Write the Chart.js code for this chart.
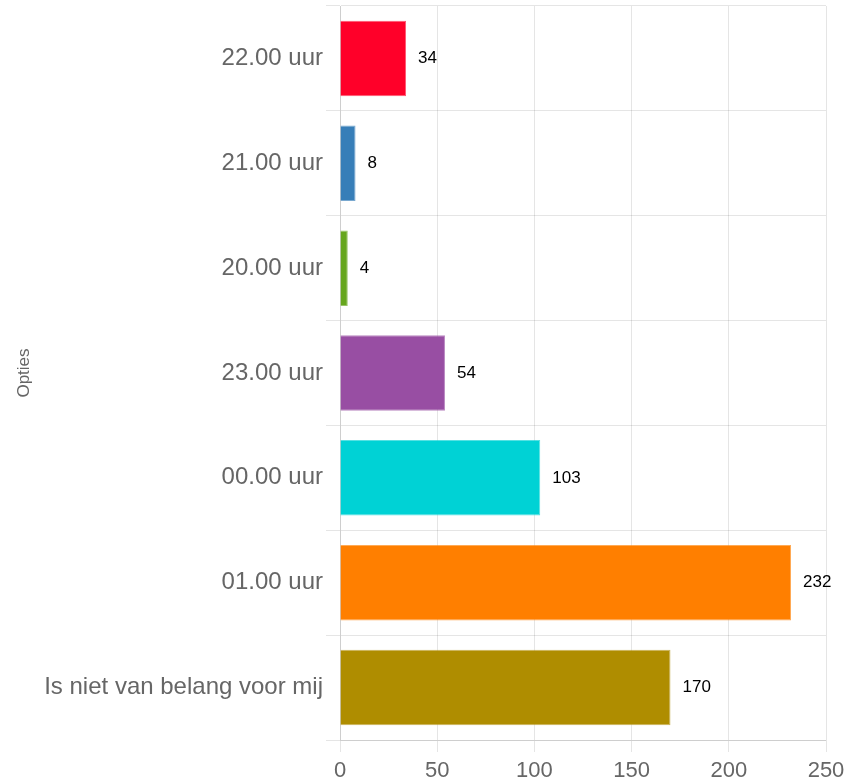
<!DOCTYPE html>
<html>
<head>
<meta charset="utf-8">
<script src="https://cdn.jsdelivr.net/npm/chart.js@4/dist/chart.umd.min.js"></script>
<style>
html,body{margin:0;padding:0;background:#fff;}
#wrap{width:849px;height:784px;}
</style>
</head>
<body>
<div id="wrap"><canvas id="c" width="849" height="784"></canvas></div>
<script>
const categories = ["22.00 uur","21.00 uur","20.00 uur","23.00 uur","00.00 uur","01.00 uur","Is niet van belang voor mij"];
const values = [34, 8, 4, 54, 103, 232, 170];
const barColors = ["#FF0029","#377EB8","#66A61E","#984EA3","#00D2D5","#FF7F00","#AF8D00"];
const xTicks = [0, 50, 100, 150, 200, 250];
const axisTitle = "Opties";

const FONT = "'Liberation Sans', Arial, Helvetica, sans-serif";

const valueLabels = {
  id: 'valueLabels',
  afterDatasetsDraw(chart) {
    const ctx = chart.ctx;
    const meta = chart.getDatasetMeta(0);
    ctx.save();
    ctx.font = "17px " + FONT;
    ctx.fillStyle = "#000";
    ctx.textAlign = "left";
    ctx.textBaseline = "middle";
    meta.data.forEach((bar, i) => {
      ctx.fillText(String(values[i]), bar.x + 12, bar.y);
    });
    ctx.restore();
  }
};

new Chart(document.getElementById('c'), {
  type: 'bar',
  data: {
    labels: categories,
    datasets: [{
      data: values,
      backgroundColor: barColors,
      borderColor: barColors.map(c => c + "AA"),
      borderWidth: 1
    }]
  },
  options: {
    indexAxis: 'y',
    responsive: false,
    animation: false,
    devicePixelRatio: 1,
    layout: { padding: { top: 6, right: 23, left: 0, bottom: 0 } },
    plugins: {
      legend: { display: false },
      tooltip: { enabled: false }
    },
    scales: {
      x: {
        min: 0,
        max: 250,
        afterBuildTicks(scale) { scale.ticks = xTicks.map(v => ({ value: v })); },
        afterFit(scale) { scale.paddingRight = 0; scale.paddingLeft = 0; scale.height = 44; },
        grid: { color: "rgba(0,0,0,0.1)", tickLength: 12 },
        border: { color: "rgba(0,0,0,0.1)" },
        ticks: { font: { size: 22, family: FONT }, color: "#666", padding: 6 }
      },
      y: {
        afterFit(scale) { scale.width = 340; scale.paddingTop = 0; scale.paddingBottom = 0; },
        grid: { color: "rgba(0,0,0,0.1)", tickLength: 14, offset: true },
        border: { color: "rgba(0,0,0,0.1)" },
        ticks: { font: { size: 24, family: FONT }, color: "#666", padding: 3 },
        title: { display: true, text: axisTitle, font: { size: 17, family: FONT }, color: "#666", padding: 14 }
      }
    }
  },
  plugins: [valueLabels]
});
</script>
</body>
</html>
